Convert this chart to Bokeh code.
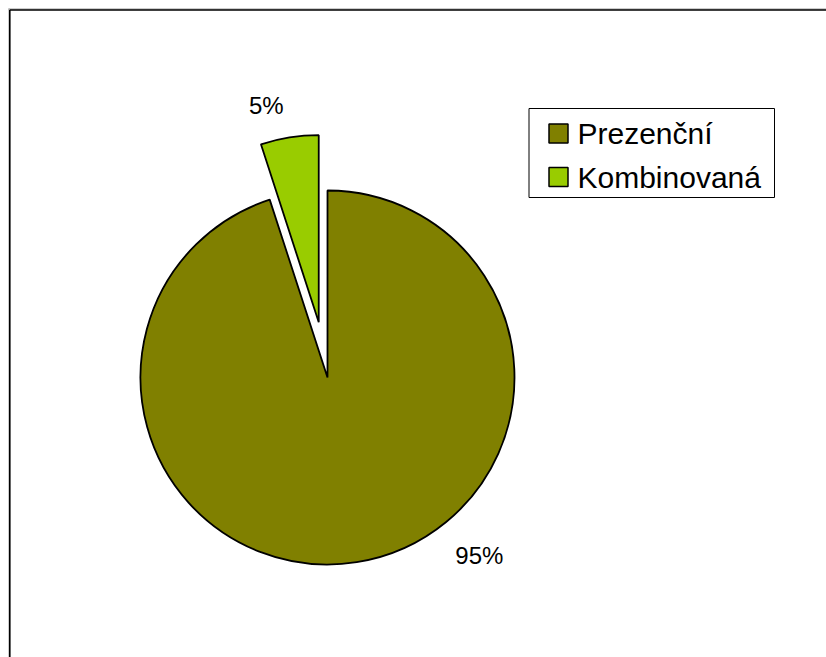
import math
from bokeh.plotting import figure
from bokeh.models import Range1d, ColumnDataSource
from bokeh.core.properties import value
from bokeh.embed import file_html
from bokeh.resources import INLINE

# ---- data ----
categories = ["Prezenční", "Kombinovaná"]
shares = [95, 5]
colors = ["#808000", "#99CC00"]

# ---- layout (pixel-like data units) ----
W, H = 826, 657
CX, CY, R = 327, 280, 187
EXPLODE = {"Kombinovaná": 56}
FONT = value("Liberation Sans")
TXT_DY = 9  # baseline compensation

p = figure(width=W, height=H, x_range=Range1d(0, W), y_range=Range1d(0, H),
           output_backend="svg", toolbar_location=None, min_border=0,
           x_axis_location=None, y_axis_location=None)
p.grid.visible = False
p.outline_line_color = None
p.background_fill_color = "white"
p.border_fill_color = "white"

# chart-area border (top and left edges visible)
p.segment(x0=[8, 8.5], y0=[648.5, 0], x1=[W, 8.5], y1=[648.5, 649],
          line_color="#999999", line_width=1)
p.segment(x0=[9.3, 9.3], y0=[647.5, 0], x1=[W, 9.3], y1=[647.5, 647.5],
          line_color="black", line_width=1.6)

# pie wedges (clockwise from 12 o'clock)
total = sum(shares)
xs, ys, starts, ends = [], [], [], []
cum = 0
for cat, v in zip(categories, shares):
    a0 = 90 - 360 * cum / total
    cum += v
    a1 = 90 - 360 * cum / total
    mid = math.radians((a0 + a1) / 2)
    d = EXPLODE.get(cat, 0)
    xs.append(CX + d * math.cos(mid))
    ys.append(CY + d * math.sin(mid))
    starts.append(math.radians(a1))
    ends.append(math.radians(a0))

src = ColumnDataSource(dict(x=xs, y=ys, start=starts, end=ends,
                            color=colors, cat=categories))
p.wedge(x="x", y="y", radius=R, start_angle="start", end_angle="end",
        direction="anticlock", fill_color="color", line_color="black",
        line_width=1.8, source=src)

# data labels
label_pos = {"Prezenční": (478.8, 92.7), "Kombinovaná": (265.8, 543)}
lx = [label_pos[c][0] for c in categories]
ly = [label_pos[c][1] + TXT_DY for c in categories]
ltxt = [f"{round(v / total * 100)}%" for v in shares]
p.text(x=lx, y=ly, text=ltxt, text_font=FONT, text_font_size="24px",
       text_align="center", text_baseline="alphabetic", text_color="black")

# legend (drawn manually)
p.quad(left=[528.5], right=[774], bottom=[460], top=[549],
       fill_color="white", line_color="black", line_width=1)
sq_y = [524, 480.5]
p.rect(x=[558] * len(categories), y=sq_y, width=19, height=19,
       fill_color=colors, line_color="black", line_width=1.5)
p.text(x=[577] * len(categories), y=[515.3 + TXT_DY, 471 + TXT_DY],
       text=categories, text_font=FONT, text_font_size="30px",
       text_align="left", text_baseline="alphabetic", text_color="black")

open("out.html", "w").write(file_html(p, INLINE))
